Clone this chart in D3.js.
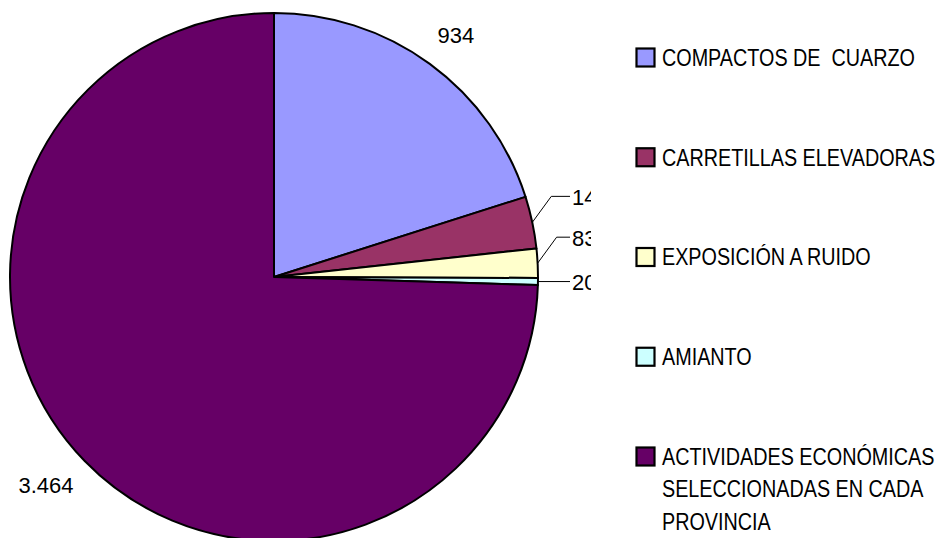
<!DOCTYPE html>
<html><head><meta charset="utf-8">
<script src="https://cdn.jsdelivr.net/npm/d3@7"></script>
<style>body{margin:0;background:#fff}svg{display:block}</style>
</head><body>
<svg id="c" width="940" height="538"></svg>
<script>
const categories = ["COMPACTOS DE  CUARZO","CARRETILLAS ELEVADORAS","EXPOSICIÓN A RUIDO","AMIANTO","ACTIVIDADES ECONÓMICAS SELECCIONADAS EN CADA PROVINCIA"];
const values = [934, 148, 83, 20, 3464];
const valueLabels = ["934","148","83","20","3.464"];
const colors = ["#9999FF","#993366","#FFFFCC","#CCFFFF","#660066"];
const legendLines = [["COMPACTOS DE  CUARZO"],["CARRETILLAS ELEVADORAS"],["EXPOSICIÓN A RUIDO"],["AMIANTO"],["ACTIVIDADES ECONÓMICAS","SELECCIONADAS EN CADA","PROVINCIA"]];

const svg = d3.select("#c");
const cx = 274, cy = 277, R = 264;
const pie = d3.pie().sort(null).value(d => d);
const arcs = pie(values);
const arc = d3.arc().innerRadius(0).outerRadius(R);

const g = svg.append("g").attr("transform", `translate(${cx},${cy})`);
g.selectAll("path").data(arcs).join("path")
  .attr("d", arc).attr("fill", (d,i) => colors[i])
  .attr("stroke", "#000").attr("stroke-width", 2).attr("stroke-linejoin","round");

svg.append("clipPath").attr("id","pa").append("rect").attr("x",0).attr("y",0).attr("width",591).attr("height",538);
const lab = svg.append("g").attr("clip-path","url(#pa)");
const font = "Liberation Sans, Arial, sans-serif";
const fs = 22;
function pt(a, r){ return [cx + r*Math.sin(a), cy - r*Math.cos(a)]; }

// big-slice labels: box placed outside the slice
arcs.forEach((d,i) => {
  const mid = (d.startAngle + d.endAngle)/2;
  const frac = (d.endAngle - d.startAngle)/(2*Math.PI);
  if (frac > 0.1) {
    const t = lab.append("text").attr("font-family", font).attr("font-size", fs)
      .attr("fill","#000").attr("text-anchor","middle").attr("dy","0.35em").text(valueLabels[i]);
    const w = t.node().getComputedTextLength(), h = fs*0.8;
    const p = pt(mid, R + 26);
    t.attr("x", p[0] + Math.sin(mid)*w/2).attr("y", p[1] - Math.cos(mid)*h/2);
  }
});
// small slices with leader lines
const rise = {1: 26, 2: 26, 3: 0};
const lineEnd = 570;
arcs.forEach((d,i) => {
  if (!(i in rise)) return;
  const mid = (d.startAngle + d.endAngle)/2;
  const s = pt(mid, R);
  const ey = s[1] - rise[i];
  const ex = rise[i] === 0 ? s[0] : s[0] + 19;
  lab.append("path").attr("d", `M${s[0]},${s[1]}L${ex},${ey}L${lineEnd},${ey}`)
    .attr("fill","none").attr("stroke","#000").attr("stroke-width",1);
  lab.append("text").attr("x", lineEnd + 2).attr("y", ey + 1).attr("dy","0.35em")
    .attr("font-family", font).attr("font-size", fs).attr("fill","#000").text(valueLabels[i]);
});

// legend
const ly = d3.scalePoint().domain(d3.range(categories.length)).range([57.5, 456.5]);
const lg = svg.append("g");
categories.forEach((c,i) => {
  const y = ly(i);
  lg.append("rect").attr("x", 636.5).attr("y", y-9).attr("width", 18).attr("height", 18)
    .attr("fill", colors[i]).attr("stroke","#000").attr("stroke-width",2.2);
  const t = lg.append("text").attr("transform", `translate(662,${y}) scale(0.86,1)`)
    .attr("font-family","Liberation Sans, Arial, sans-serif").style("white-space","pre")
    .attr("font-size", 23).attr("fill","#000");
  legendLines[i].forEach((ln,k) => {
    t.append("tspan").attr("x",0).attr("dy", k===0 ? "0.36em" : 32.5).text(ln);
  });
});
</script>
</body></html>
